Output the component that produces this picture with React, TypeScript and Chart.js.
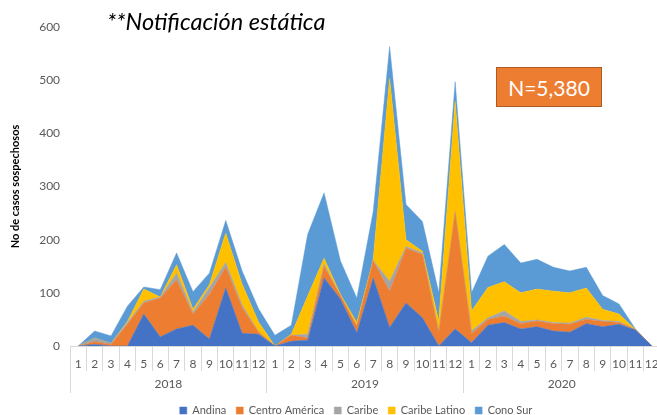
import React, { useEffect, useRef } from 'react';
import { Chart, registerables } from 'chart.js';

Chart.register(...registerables);

const years = ['2018', '2019', '2020'];
const months = ['1', '2', '3', '4', '5', '6', '7', '8', '9', '10', '11', '12'];
const categories = years.flatMap(() => months);

const andina = [0, 3, 0, 0, 60, 17, 32, 39, 13, 109, 24, 22, 0, 9, 11, 128, 88, 25, 128, 35, 81, 53, 0, 32, 6, 39, 44, 32, 36, 28, 26, 42, 36, 41, 30, 0];
const centroAmerica = [0, 5, 3, 41, 21, 73, 92, 21, 84, 39, 48, 4, 0, 11, 4, 22, 6, 12, 32, 68, 103, 119, 25, 218, 17, 11, 12, 10, 11, 14, 15, 8, 10, 3, 1, 0];
const caribe = [0, 7, 2, 3, 3, 2, 13, 4, 13, 9, 5, 1, 0, 0, 7, 4, 0, 0, 1, 19, 3, 3, 2, 3, 5, 3, 10, 4, 2, 2, 2, 4, 2, 2, 0, 0];
const caribeLatino = [0, 0, 0, 2, 23, 0, 16, 5, 5, 55, 39, 18, 0, 2, 72, 11, 3, 7, 2, 381, 13, 3, 20, 207, 38, 57, 55, 54, 58, 59, 57, 55, 21, 14, 0, 0];
const conoSur = [0, 13, 14, 29, 4, 14, 22, 33, 22, 24, 25, 25, 20, 17, 116, 123, 63, 46, 90, 60, 66, 56, 53, 37, 34, 59, 70, 56, 56, 45, 41, 39, 26, 19, 1, 0];

const seriesNames = ['Andina', 'Centro América', 'Caribe', 'Caribe Latino', 'Cono Sur'];
const seriesColors = ['#4472C4', '#ED7D31', '#A5A5A5', '#FFC000', '#5B9BD5'];
const yTicks = [0, 100, 200, 300, 400, 500, 600];

const CANVAS_W = 660;
const CANVAS_H = 426;

const legendShift = {
  id: 'legendShift',
  afterLayout(chart: any) {
    const lg = chart.legend;
    if (lg) {
      lg.left -= 9;
      lg.right -= 9;
    }
  },
};

export default function App() {
  const canvasRef = useRef<HTMLCanvasElement | null>(null);

  useEffect(() => {
    if (!canvasRef.current) return;
    Chart.defaults.font.family = 'Lato';
    const seriesData = [andina, centroAmerica, caribe, caribeLatino, conoSur];
    const chart = new Chart(canvasRef.current, {
      type: 'line',
      data: {
        labels: categories,
        datasets: seriesData.map((d, i) => ({
          label: seriesNames[i],
          data: d,
          backgroundColor: seriesColors[i],
          borderColor: seriesColors[i],
          borderWidth: 0.5,
          pointRadius: 0,
          tension: 0,
          fill: i === 0 ? 'origin' : '-1',
        })),
      },
      plugins: [legendShift],
      options: {
        animation: false,
        responsive: false,
        layout: { padding: { top: 27, left: 7, right: 0, bottom: 0 } },
        plugins: {
          legend: {
            position: 'bottom',
            fullSize: false,
            labels: {
              boxWidth: 7,
              boxHeight: 7,
              padding: 10,
              color: '#595959',
              font: { size: 11 },
            },
          },
          tooltip: { enabled: false },
        },
        scales: {
          x: {
            type: 'category',
            offset: true,
            position: 'bottom',
            weight: 0,
            grid: { offset: true, drawOnChartArea: false, tickLength: 25, color: '#d9d9d9' },
            border: { display: true, color: '#d9d9d9' },
            ticks: { autoSkip: false, maxRotation: 0, padding: -14, color: '#595959', font: { size: 12 } },
            afterFit: (s: any) => { s.height = 25; },
          },
          x2: {
            type: 'category',
            labels: years,
            offset: true,
            position: 'bottom',
            weight: 1,
            grid: { offset: true, drawOnChartArea: false, tickLength: 22, color: '#d9d9d9' },
            border: { display: false },
            ticks: { autoSkip: false, maxRotation: 0, padding: -16, color: '#595959', font: { size: 12 } },
            afterFit: (s: any) => { s.height = 24; },
          },
          y: {
            stacked: true,
            min: 0,
            max: 600,
            afterBuildTicks: (s: any) => { s.ticks = yTicks.map((v) => ({ value: v })); },
            grid: { display: false, drawTicks: false },
            border: { display: false },
            ticks: { padding: 10, color: '#595959', font: { size: 12 } },
            title: {
              display: true,
              text: 'No de casos sospechosos',
              color: '#000000',
              font: { size: 11, weight: 'bold' },
              padding: { top: 2, bottom: 7 },
            },
          },
        },
      },
    });
    return () => chart.destroy();
  }, []);

  return (
    <div style={{ position: 'absolute', left: 0, top: 0, width: 657, height: 415, overflow: 'hidden', background: '#fff' }}>
      <canvas ref={canvasRef} width={CANVAS_W} height={CANVAS_H} style={{ display: 'block', position: 'absolute', left: 0, top: 0 }} />
      <div style={{ position: 'absolute', left: 107, top: 10, fontFamily: 'Lato', fontStyle: 'italic', fontSize: 23.5, lineHeight: 1, color: '#000', whiteSpace: 'nowrap' }}>
        **Notificación estática
      </div>
      <div style={{ position: 'absolute', left: 496, top: 67, width: 106, height: 40, boxSizing: 'border-box', background: '#ED7D31', border: '1px solid #AE5A21', color: '#fff', fontFamily: 'Lato', fontSize: 21, display: 'flex', alignItems: 'center', justifyContent: 'center' }}>
        N=5,380
      </div>
    </div>
  );
}
